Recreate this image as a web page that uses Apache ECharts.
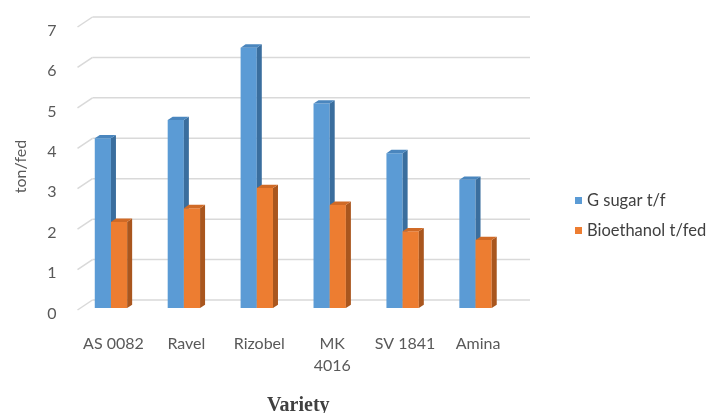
<!DOCTYPE html>
<html>
<head>
<meta charset="utf-8">
<script src="https://cdn.jsdelivr.net/npm/echarts@6/dist/echarts.min.js"></script>
<style>
  html, body { margin: 0; padding: 0; background: #fff; }
  #chart { width: 715px; height: 413px; }
</style>
</head>
<body>
<div id="chart"></div>
<script>
// Varieties and yields (ton/fed)
const categories = ['AS 0082', 'Ravel', 'Rizobel', 'MK\n4016', 'SV 1841', 'Amina'];
const sugarValues = [4.2, 4.65, 6.44, 5.06, 3.83, 3.17];
const ethanolValues = [2.13, 2.47, 2.97, 2.55, 1.9, 1.68];
const yTicks = [0, 1, 2, 3, 4, 5, 6, 7];

const seriesNames = ['G sugar t/f', 'Bioethanol t/fed'];
const faceColors = [
  { front: '#5B9BD5', side: '#3A6E9E', top: '#4A86BE' },
  { front: '#ED7D31', side: '#A9561E', top: '#D06A26' }
];

// depth of the 3-D look
const barDX = 5, barDY = -3.3;
const wallDX = 18, wallDY = -8;

function makeBarRenderer(slot) {
  return function (params, api) {
    const idx = api.value(0);
    const base = api.coord([idx, 0]);
    const top = api.coord([idx, api.value(1)]);
    const band = api.size([1, 0])[0];
    const w = band * 0.222;
    const left = slot === 0 ? base[0] - w : base[0];
    const right = left + w;
    const c = faceColors[slot];
    return {
      type: 'group',
      children: [
        { type: 'rect', shape: { x: left, y: top[1], width: w, height: base[1] - top[1] },
          style: { fill: c.front } },
        { type: 'polygon', shape: { points: [[right, top[1]], [right + barDX, top[1] + barDY],
            [right + barDX, base[1] + barDY], [right, base[1]]] }, style: { fill: c.side } },
        { type: 'polygon', shape: { points: [[left, top[1]], [left + barDX, top[1] + barDY],
            [right + barDX, top[1] + barDY], [right, top[1]]] }, style: { fill: c.top } }
      ]
    };
  };
}

// back-wall gridlines with the short side stubs
function wallRenderer(params, api) {
  const v = api.value(1);
  const p = api.coord([0, v]);
  const band = api.size([1, 0])[0];
  const L = p[0] - band / 2;
  const R = api.coord([categories.length - 1, v])[0] + band / 2;
  const y = p[1];
  const st = { stroke: '#D9D9D9', lineWidth: 1.5 };
  return {
    type: 'group',
    children: [
      { type: 'line', shape: { x1: L + 3, y1: y + 2, x2: L + wallDX, y2: y + wallDY }, style: st },
      { type: 'line', shape: { x1: L + wallDX, y1: y + wallDY, x2: R + wallDX, y2: y + wallDY }, style: st }
    ]
  };
}

const chart = echarts.init(document.getElementById('chart'), null, { renderer: 'canvas' });

chart.setOption({
  animation: false,
  backgroundColor: '#fff',
  textStyle: { fontFamily: 'Lato, "Open Sans", sans-serif' },
  grid: { left: 74.5, right: 203, top: 25, bottom: 105, containLabel: false, outerBoundsMode: 'none' },
  legend: {
    orient: 'vertical',
    left: 575,
    top: 192,
    padding: 0,
    icon: 'rect',
    itemWidth: 7,
    itemHeight: 7,
    itemGap: 13,
    textStyle: { fontSize: 16.5, color: '#404040', fontFamily: 'Lato, sans-serif' },
    data: seriesNames
  },
  xAxis: {
    type: 'category',
    data: categories,
    axisLine: { show: false },
    axisTick: { show: false },
    axisLabel: { interval: 0, color: '#595959', fontSize: 16, margin: 25, lineHeight: 22, padding: [0, 0, 0, 5] },
    name: 'Variety',
    nameLocation: 'middle',
    nameGap: 88,
    nameTextStyle: { fontFamily: '"Liberation Serif", serif', fontWeight: 'bold', fontSize: 20,
      color: '#404040', padding: [0, 0, 0, 10] }
  },
  yAxis: {
    type: 'value',
    min: 0,
    max: 7,
    interval: 1,
    splitLine: { show: false },
    axisLine: { show: false },
    axisTick: { show: false },
    axisLabel: { color: '#595959', fontSize: 16, margin: 18, verticalAlign: 'top', lineHeight: 11 },
    name: 'ton/fed',
    nameLocation: 'middle',
    nameRotate: 90,
    nameGap: 46,
    nameTextStyle: { fontSize: 16, color: '#595959' }
  },
  series: [
    {
      type: 'custom',
      silent: true,
      z: 1,
      renderItem: wallRenderer,
      data: yTicks.map(v => [0, v])
    },
    {
      type: 'custom',
      name: seriesNames[0],
      z: 2,
      itemStyle: { color: faceColors[0].front },
      renderItem: makeBarRenderer(0),
      data: sugarValues.map((v, i) => [i, v])
    },
    {
      type: 'custom',
      name: seriesNames[1],
      z: 3,
      itemStyle: { color: faceColors[1].front },
      renderItem: makeBarRenderer(1),
      data: ethanolValues.map((v, i) => [i, v])
    }
  ]
});
</script>
</body>
</html>
